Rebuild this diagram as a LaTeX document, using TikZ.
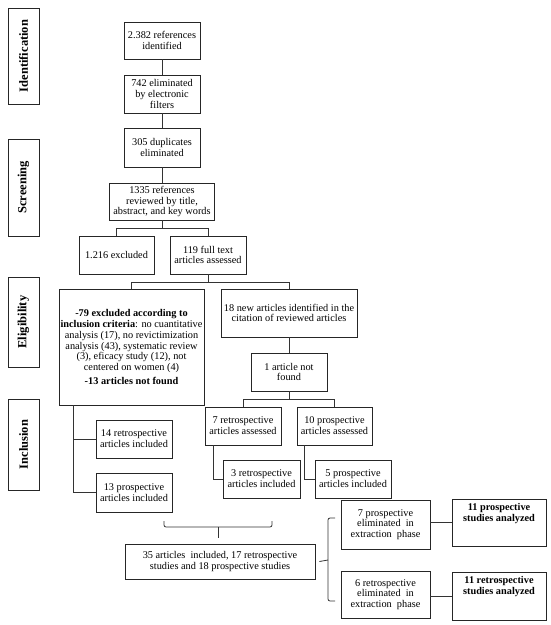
\documentclass[tikz,border=0pt]{standalone}
\usepackage{fontspec}
\setmainfont{Liberation Serif}
\begin{document}
\begin{tikzpicture}[x=1pt,y=-1pt,
  box/.style={draw=black!85, line width=0.8pt, inner sep=1pt, align=center,
    font=\fontsize{10.3}{10.8}\selectfont},
  side/.style={draw=black!85, line width=0.8pt, inner sep=1pt, rotate=90,
    font=\fontsize{12.5}{13}\selectfont\bfseries},
  conn/.style={draw=black!80, line width=0.8pt}]
\useasboundingbox (0,0) rectangle (550,625);
% side labels
\node[side, minimum width=96pt, minimum height=31pt] (sid) at (23.5,56) {Identification};
\node[side, minimum width=97pt, minimum height=31pt] (sscr) at (23.5,187.5) {Screening};
\node[side, minimum width=90pt, minimum height=31pt] (selg) at (23.5,322) {Eligibility};
\node[side, minimum width=91pt, minimum height=31pt] (sinc) at (23.5,444.5) {Inclusion};
% boxes
\node[box, minimum width=76pt, minimum height=37pt] (n1) at (162,40.5) {2.382 references\\identified};
\node[box, minimum width=76pt, minimum height=38pt] (n2) at (162,94) {742 eliminated\\by electronic\\filters};
\node[box, minimum width=76pt, minimum height=39pt] (n3) at (162,147.5) {305 duplicates\\eliminated};
\node[box, minimum width=105pt, minimum height=37pt] (n4) at (162,201.5) {1335 references\\reviewed by title,\\abstract, and key words};
\node[box, minimum width=75pt, minimum height=38pt] (n5) at (116.5,255) {1.216 excluded};
\node[box, minimum width=76pt, minimum height=38pt] (n6) at (208,255) {119 full text\\articles assessed};
\node[box, minimum width=145pt, minimum height=116pt] (n7) at (131.5,347) {\textbf{-79 excluded according to}\\\textbf{inclusion criteria}: no cuantitative\\analysis (17), no revictimization\\analysis (43), systematic review\\(3), eficacy study (12), not\\centered on women (4)\\[3pt]\textbf{-13 articles not found}};
\node[box, minimum width=136pt, minimum height=48pt] (n8) at (289,313) {18 new articles identified in the\\citation of reviewed articles};
\node[box, minimum width=76pt, minimum height=38pt] (n9) at (289,372) {1 article not\\found};
\node[box, minimum width=76pt, minimum height=38pt] (n10) at (243,426) {7 retrospective\\articles assessed};
\node[box, minimum width=75pt, minimum height=38pt] (n11) at (334.5,426) {10 prospective\\articles assessed};
\node[box, minimum width=77pt, minimum height=38pt] (n12) at (261.5,479) {3 retrospective\\articles included};
\node[box, minimum width=76pt, minimum height=38pt] (n13) at (353,479) {5 prospective\\articles included};
\node[box, minimum width=76pt, minimum height=38pt] (n14) at (134,439) {14 retrospective\\articles included};
\node[box, minimum width=76pt, minimum height=39pt] (n15) at (134,492.5) {13 prospective\\articles included};
\node[box, minimum width=190pt, minimum height=35pt] (n16) at (220,561.5) {35 articles\ \ included, 17 retrospective\\studies and 18 prospective studies};
\node[box, minimum width=89pt, minimum height=49pt] (n17) at (385.5,524.5) {7 prospective\\eliminated\ \ in\\extraction\ \ phase};
\node[box, minimum width=94pt, minimum height=47pt] (n18) at (499,522.5) {\textbf{11 prospective}\\\textbf{studies analyzed}\\[10pt]};
\node[box, minimum width=89pt, minimum height=47pt] (n19) at (385.5,594.5) {6 retrospective\\eliminated\ \ in\\extraction\ \ phase};
\node[box, minimum width=94pt, minimum height=48pt] (n20) at (499,596) {\textbf{11 retrospective}\\\textbf{studies analyzed}\\[10pt]};
% connectors
\draw[conn] (n1.south) -- (n2.north);
\draw[conn] (n2.south) -- (n3.north);
\draw[conn] (n3.south) -- (n4.north);
\draw[conn] (n4.south) -- ++(0,8) -| (n5.north);
\draw[conn] (n4.south) -- ++(0,8) -| (n6.north);
\draw[conn] (n6.south) -- ++(0,8) -| (n7.north);
\draw[conn] (n6.south) -- ++(0,8) -| (n8.north);
\draw[conn] (n8.south) -- (n9.north);
\draw[conn] (n9.south) -- ++(0,8) -| (n10.north);
\draw[conn] (n9.south) -- ++(0,8) -| (n11.north);
\draw[conn] ([xshift=-30pt]n10.south) |- (n12.west);
\draw[conn] ([xshift=-30.5pt]n11.south) |- (n13.west);
\draw[conn] ([xshift=-58.5pt]n7.south) |- (n14.west);
\draw[conn] ([xshift=-58.5pt]n7.south) |- (n15.west);
% lower brace
\coordinate (bl) at (164,521);
\coordinate (br) at (272,521);
\coordinate (bt) at (218,538);
\draw[conn, rounded corners=2pt] (bl) -- (164,527) -- (272,527) -- (br);
\draw[conn] (218,527) -- (bt);
% right brace
\coordinate (rt) at (335,518);
\coordinate (rb) at (335,601);
\draw[conn] ([xshift=4pt]n16.east) -- (328,560);
\draw[conn, rounded corners=2pt] (rt) -- (328,518) -- (328,601) -- (rb);
\draw[conn] (n17.east |- n18.west) -- (n18.west);
\draw[conn] (n19.east |- n20.west) -- (n20.west);
\end{tikzpicture}
\end{document}
